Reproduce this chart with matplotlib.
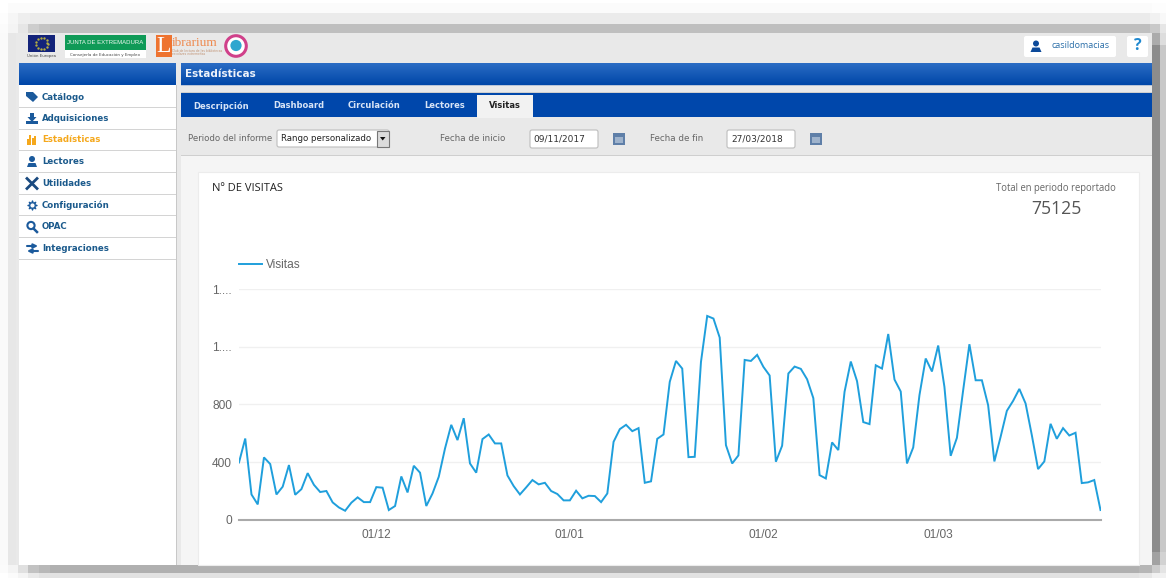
import numpy as np
import pandas as pd
from matplotlib import pyplot as plt
from matplotlib.colors import LinearSegmentedColormap
from matplotlib.patches import Rectangle, FancyBboxPatch, Circle, Polygon

# daily visits, 09/11/2017 - 27/03/2018
visitas = [397, 563, 175, 106, 432, 386, 175, 229, 379, 173, 212, 323, 242, 192, 199, 120, 85, 62, 118, 155,
           122, 122, 226, 222, 67, 95, 300, 189, 374, 326, 95, 182, 298, 494, 658, 552, 704, 390, 326, 559,
           591, 529, 529, 307, 233, 175, 224, 275, 245, 256, 199, 178, 134, 134, 201, 148, 166, 164, 122, 182,
           540, 628, 658, 614, 635, 256, 266, 561, 591, 956, 1101, 1048, 434, 436, 1094, 1413, 1395, 1263, 517, 390,
           446, 1108, 1101, 1143, 1060, 1000, 402, 513, 1014, 1062, 1046, 974, 843, 309, 286, 536, 483, 887, 1097, 961,
           677, 663, 1071, 1048, 1288, 972, 889, 390, 501, 864, 1118, 1028, 1208, 921, 443, 568, 898, 1217, 967, 967,
           794, 404, 575, 755, 824, 907, 806, 586, 351, 404, 665, 561, 635, 584, 603, 254, 259, 275, 67]
fechas = pd.date_range('2017-11-09', '2018-03-27', freq='D')

y_ticks = [0, 400, 800, 1200, 1600]
y_labels = ['0', '400', '800', '1....', '1....']
x_ticks = pd.to_datetime(['2017-12-01', '2018-01-01', '2018-02-01', '2018-03-01'])
x_labels = ['01/12', '01/01', '01/02', '01/03']

menu = ['Catálogo', 'Adquisiciones', 'Estadísticas', 'Lectores', 'Utilidades', 'Configuración', 'OPAC', 'Integraciones']
menu_y = [97, 118.5, 140, 162, 183.5, 205, 226.5, 248.5]
tabs = ['Descripción', 'Dashboard', 'Circulación', 'Lectores']
tabs_x = [193, 273, 348, 424]

W, H = 1166, 578
BLUE = '#1b5a8c'
ORANGE = '#f5a81c'
LINE = '#1f9fdc'

fig = plt.figure(figsize=(W / 100, H / 100), dpi=100)
ui = fig.add_axes([0, 0, 1, 1])
ui.set_xlim(0, W)
ui.set_ylim(H, 0)
ui.axis('off')


def box(x0, y0, x1, y1, color, **kw):
    ui.add_patch(Rectangle((x0, y0), x1 - x0, y1 - y0, facecolor=color, edgecolor=kw.pop('edge', 'none'),
                           linewidth=kw.pop('lw', 0.8), **kw))


def round_box(x0, y0, x1, y1, color, edge='none'):
    ui.add_patch(FancyBboxPatch((x0 + 2, y0 + 2), x1 - x0 - 4, y1 - y0 - 4, boxstyle='round,pad=2',
                                facecolor=color, edgecolor=edge, linewidth=0.8))


def txt(x, y, s, size=6.6, color='#555555', weight='normal', family='DejaVu Sans', ha='left'):
    ui.text(x, y, s, fontsize=size, color=color, fontweight=weight, family=family, ha=ha, va='center')


def gradient(x0, y0, x1, y1, top, bottom):
    grad = np.linspace(0, 1, 32).reshape(-1, 1)
    cmap = LinearSegmentedColormap.from_list('g', [top, bottom])
    ui.imshow(grad, extent=(x0, x1, y1, y0), cmap=cmap, aspect='auto', interpolation='bilinear', zorder=1.5)
    ui.set_xlim(0, W)
    ui.set_ylim(H, 0)


# screenshot shadow round the page, it is blocky in the original
box(8, 3, 1152, 13, '#fbfbfb')
box(1152, 3, W, 13, '#fdfdfd')
for x0, x1, col in [(0, 8, '#fdfdfd'), (8, 18, '#f6f6f6'), (18, 30, '#eeeeee'), (30, 1150, '#ebebeb'),
                    (1150, 1160, '#f1f1f1'), (1160, W, '#f8f8f8')]:
    box(x0, 13, x1, 24, col)
for x0, x1, col in [(0, 8, '#fbfbfb'), (8, 18, '#f4f4f4'), (18, 28, '#e6e6e6'), (28, 39, '#cdcdcd'), (39, 50, '#c4c4c4'),
                    (50, 1150, '#bfbfbf'), (1150, 1160, '#c9c9c9'), (1160, W, '#e6e6e6')]:
    box(x0, 24, x1, 33, col)
box(0, 33, 8, 565, '#fafafa')
box(8, 33, 16, 565, '#e7e7e7')
box(1152, 33, 1160, 45, '#ababab')
box(1160, 33, W, 45, '#dddddd')
box(1152, 45, 1160, 552, '#8c8c8c')
box(1160, 45, W, 552, '#c8c8c8')
box(1152, 552, 1160, 565, '#a2a2a2')
box(1160, 552, W, 565, '#d2d2d2')
for x0, x1, col in [(0, 8, '#fbfbfb'), (8, 18, '#f4f4f4'), (18, 28, '#e0e0e0'), (28, 39, '#c2c2c2'), (39, 50, '#b8b8b8'),
                    (50, 1139, '#b0b0b0'), (1139, 1152, '#b6b6b6'), (1152, 1160, '#cccccc'), (1160, W, '#e4e4e4')]:
    box(x0, 565, x1, 573, col)
for x0, x1, col in [(8, 18, '#fbfbfb'), (18, 28, '#f4f4f4'), (28, 39, '#e9e9e9'), (39, 1139, '#e2e2e2'),
                    (1139, 1152, '#e6e6e6'), (1152, W, '#f1f1f1')]:
    box(x0, 573, x1, H, col)

# page
box(16, 33, 1152, 565, '#e9e9e9')
box(19, 85, 176, 565, 'white')
box(176, 85, 177, 565, '#c8c8c8')
box(181, 155, 1152, 565, '#f5f5f5')
box(181, 155, 1152, 156, '#cfcfcf')
box(198, 172, 1139, 565, 'white', edge='#ececec')

# top logos
box(28, 35, 55, 52, '#13237a')
ui.scatter(41.5 + 6 * np.cos(np.linspace(0, 6.28, 12)), 43.5 + 6 * np.sin(np.linspace(0, 6.28, 12)),
           s=0.5, color='#b8b040', zorder=3)
txt(41.5, 56, 'Unión Europea', size=2.8, color='#444444', ha='center')
box(65, 50, 146, 58, 'white')
box(65, 35, 146, 50, '#0f9a57')
txt(105, 43, 'JUNTA DE EXTREMADURA', size=4.3, color='#eef8f0', family='Liberation Sans', ha='center')
txt(105.5, 55, 'Consejería de Educación y Empleo', size=2.9, color='#444444', ha='center')
box(156, 35, 172, 57, '#ee7330')
txt(164, 46, 'L', size=17, color='white', family='Liberation Serif', ha='center')
txt(172, 42.5, 'ibrarium', size=9.5, color='#ee8a50', family='Liberation Serif')
txt(172.5, 51, 'Club de lectura de las bibliotecas', size=2.2, color='#c09070')
txt(172.5, 54, 'escolares extremeñas', size=2.2, color='#c09070')
ui.add_patch(Circle((236, 46), 10.3, facecolor='white', edgecolor='#d0408a', linewidth=2.2))
ui.add_patch(Circle((236, 45.5), 5.6, facecolor='#2fa6cf', edgecolor='none'))

# user box and help
round_box(1024, 36, 1116, 57, 'white')
ui.add_patch(Circle((1036, 43.5), 3, facecolor='#0c4a9a', edgecolor='none'))
ui.add_patch(Polygon([(1030.5, 52), (1032.5, 47.5), (1039.5, 47.5), (1041.5, 52)], facecolor='#0c4a9a', edgecolor='none'))
txt(1051, 45.5, 'casildomacias', size=6.5, color='#2a6ea8', family='Open Sans')
round_box(1127, 36, 1148, 57, 'white')
txt(1137.5, 46, '?', size=11.5, color='#1e88d0', weight='bold', family='Open Sans', ha='center')

# header bars
gradient(19, 63, 176, 85, '#2b6cc4', '#0047a8')
gradient(181, 63, 1152, 85, '#2b6cc4', '#0047a8')
box(181, 85, 1152, 86, '#b8c4d8')
box(181, 92, 1152, 93, '#cfcfcf')
txt(185, 74, 'Estadísticas', size=7.5, color='#eef3fb', weight='bold')

# tabs
box(181, 93, 1152, 117, '#0047ab')
for name, x in zip(tabs, tabs_x):
    txt(x, 106, name, size=6.0, color='#d8e4f6', weight='bold')
box(477, 95, 533, 118, '#f2f2f2')
txt(505, 106, 'Visitas', size=6.0, color='#222222', weight='bold', ha='center')

# filter row
txt(188, 138.5, 'Periodo del informe', size=6.2, color='#666666')
round_box(277, 130, 389, 147, 'white', edge='#bdbdbd')
txt(281, 138.5, 'Rango personalizado', size=6.25, color='#222222')
box(377, 130.5, 388.5, 146.5, '#dcdcdc', edge='#777777')
ui.add_patch(Polygon([(380, 137), (385.5, 137), (382.7, 140.5)], facecolor='#111111', edgecolor='none'))
txt(440, 138.5, 'Fecha de inicio', size=6.3, color='#666666')
round_box(530, 130, 598, 148, 'white', edge='#bdbdbd')
txt(533, 138.5, '09/11/2017', size=6.5, color='#333333')
box(613, 133, 625, 145, '#5f7fa8')
box(615, 137, 623, 143, '#9fb3cc')
txt(650, 138.5, 'Fecha de fin', size=6.3, color='#666666')
round_box(727, 130, 795, 148, 'white', edge='#bdbdbd')
txt(731, 138.5, '27/03/2018', size=6.5, color='#333333')
box(810, 133, 822, 145, '#5f7fa8')
box(812, 137, 820, 143, '#9fb3cc')

# sidebar menu
for name, y in zip(menu, menu_y):
    col = ORANGE if name == 'Estadísticas' else BLUE
    txt(42, y, name, size=6.2, color=col, weight='bold')
    box(19, y + 10.3, 176, y + 11.2, '#d4d4d4')

ic = '#1b5a9c'
ui.add_patch(Polygon([(26, 92), (33, 92), (38, 97), (33, 102), (26, 96)], facecolor=ic, edgecolor='none'))
box(26, 121, 38, 124, ic)
ui.add_patch(Polygon([(30, 113), (34, 113), (34, 117), (36.5, 117), (32, 122), (27.5, 117), (30, 117)], facecolor=ic, edgecolor='none'))
for x, h in zip([26.5, 29, 31.5, 34], [6, 10, 7, 9]):
    box(x, 145 - h, x + 2.2, 145, ORANGE)
ui.add_patch(Circle((32, 159), 3, facecolor=ic, edgecolor='none'))
ui.add_patch(Polygon([(27, 167), (28.5, 163), (35.5, 163), (37, 167)], facecolor=ic, edgecolor='none'))
ui.plot([27, 37], [178.5, 188.5], color='#1a4a80', lw=2)
ui.plot([27, 37], [188.5, 178.5], color='#1a4a80', lw=2)
ui.scatter([32], [205], s=42, marker=(8, 1, 0), color=ic, zorder=3)
ui.scatter([32], [205], s=4, color='white', zorder=4)
ui.add_patch(Circle((31, 225.5), 3.6, facecolor='none', edgecolor=ic, linewidth=1.5))
ui.plot([33.5, 37], [228.5, 232], color=ic, lw=1.8)
ui.annotate('', (38, 246), (27, 246), arrowprops=dict(arrowstyle='-|>', color=ic, lw=1.5, mutation_scale=6, shrinkA=0, shrinkB=0))
ui.annotate('', (27, 251), (38, 251), arrowprops=dict(arrowstyle='-|>', color=ic, lw=1.5, mutation_scale=6, shrinkA=0, shrinkB=0))

# card titles
txt(212, 188.5, 'Nº DE VISITAS', size=8.0, color='#222222', family='Open Sans')
txt(1056, 188.5, 'Total en periodo reportado', size=6.85, color='#666666', family='Open Sans', ha='center')
txt(1056, 209, '75125', size=12.7, color='#555555', family='Open Sans', ha='center')

# the chart itself
ax = fig.add_axes([239 / W, 1 - 519.7 / H, (1100.5 - 239) / W, (519.7 - 289) / H], facecolor='none')
ax.plot(fechas, visitas, color=LINE, lw=1.4, label='Visitas', solid_joinstyle='miter', zorder=3)
ax.set_xlim(fechas[0], fechas[-1])
ax.set_ylim(0, 1600)
ax.set_yticks(y_ticks)
ax.set_yticklabels(y_labels)
ax.set_xticks(x_ticks)
ax.set_xticklabels(x_labels)
ax.tick_params(length=0, labelsize=8.6, labelcolor='#666666', pad=7)
ax.tick_params(axis='y', pad=5)
for lab in ax.get_xticklabels() + ax.get_yticklabels():
    lab.set_family('Liberation Sans')
ax.grid(axis='y', color='#f0f0f0', lw=1)
ax.set_axisbelow(True)
for side in ['top', 'right', 'left']:
    ax.spines[side].set_visible(False)
ax.spines['bottom'].set_color('#aaaaaa')
ax.spines['bottom'].set_linewidth(1.5)
leg = ax.legend(loc='lower left', bbox_to_anchor=(0, 1.078), frameon=False, handlelength=1.95, handletextpad=0.3,
                borderaxespad=0, borderpad=0, prop={'family': 'Liberation Sans', 'size': 8.6})
leg.get_texts()[0].set_color('#666666')

fig.savefig('out.png', dpi=100)
